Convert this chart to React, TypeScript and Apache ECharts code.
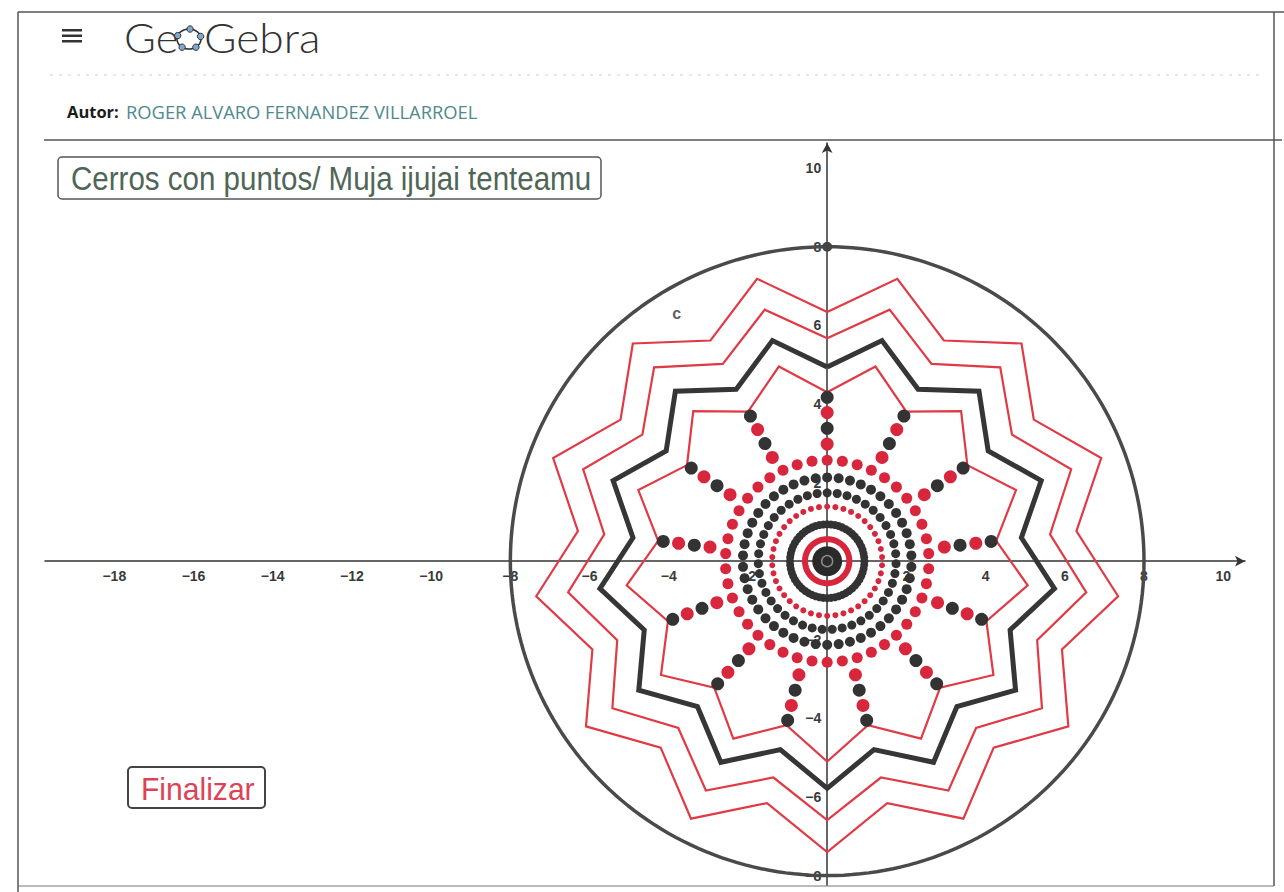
import { useEffect, useRef } from "react";
import * as echarts from "echarts";

// ---- axes ----
const xTickValues = [-18, -16, -14, -12, -10, -8, -6, -4, -2, 2, 4, 6, 8, 10];
const yTickValues = [-8, -6, -4, -2, 2, 4, 6, 8, 10];
const xRange = [-19.75, 10.55];
const yRange = [-8.24, 10.64];

// ---- circle c ----
const circleRadius = 8;
const circlePoints = [[0, 8]];
const circleLabel = [{ name: "c", value: [-3.8, 6.3] }];

// ---- 13 hills (stars) ----
const hillCount = 13;
const starInnerRadii = [4.3, 4.94, 5.67, 6.34];
const starOuterRadii = [5.1, 5.78, 6.59, 7.4];
const starKinds = ["red", "black", "red", "red"];

// ---- dotted rings ----
const ringRadii = [1.39, 1.74, 2.13, 2.57];
const ringDotCounts = [42, 43, 46, 42];
const ringKinds = ["red", "black", "black", "red"];
const ringDotSizes = [6, 9, 10, 11];

// ---- spokes (one per hill) ----
const spokeRadii = [2.98, 3.38, 3.78, 4.17];
const spokeKinds = ["red", "black", "red", "black"];

// ---- centre ----
const beadRingRadius = 0.94;
const beadCount = 60;
const redRingRadius = 0.56;

const RED_LINE = "#e03a45";
const RED_DOT = "#d8263c";
const DARK = "#333333";

// grid geometry (pixels)
const GRID = { left: 45, right: 39, top: 143, bottom: 7 };
const W = 1284;
const H = 892;

const deg = Math.PI / 180;
const polar = (r: number, a: number) => [r * Math.cos(a * deg), r * Math.sin(a * deg)];
const circleData = (r: number, n: number) => {
  const out: number[][] = [];
  for (let i = 0; i <= n; i++) out.push(polar(r, 90 + (i * 360) / n));
  return out;
};
const starData = (ri: number, ro: number) => {
  const out: number[][] = [];
  for (let k = 0; k <= 2 * hillCount; k++) {
    out.push(polar(k % 2 === 0 ? ri : ro, 90 + (k * 180) / hillCount));
  }
  return out;
};
const ringData = (r: number, n: number) => {
  const out: number[][] = [];
  for (let i = 0; i < n; i++) out.push(polar(r, 90 + (i * 360) / n));
  return out;
};

const minus = (v: number) => (v < 0 ? "\u2212" + Math.abs(v) : String(v));

function buildOption() {
  const series: any[] = [];

  series.push({
    type: "line",
    data: circleData(circleRadius, 240),
    symbol: "none",
    lineStyle: { color: "#4a4a4a", width: 3.5 },
    z: 3,
    silent: true,
  });

  starInnerRadii.forEach((ri, i) => {
    const black = starKinds[i] === "black";
    series.push({
      type: "line",
      data: starData(ri, starOuterRadii[i]),
      symbol: "none",
      lineStyle: { color: black ? "#363636" : RED_LINE, width: black ? 5 : 2.2, join: "miter" },
      z: 3,
      silent: true,
    });
  });

  ringRadii.forEach((r, i) => {
    series.push({
      type: "scatter",
      data: ringData(r, ringDotCounts[i]),
      symbolSize: ringDotSizes[i],
      itemStyle: { color: ringKinds[i] === "red" ? RED_DOT : DARK, opacity: 1 },
      z: 5,
      silent: true,
    });
  });

  const spokeData: any[] = [];
  for (let k = 0; k < hillCount; k++) {
    spokeRadii.forEach((r, j) => {
      spokeData.push({
        value: polar(r, 90 + (k * 360) / hillCount),
        itemStyle: { color: spokeKinds[j] === "red" ? RED_DOT : DARK, opacity: 1 },
      });
    });
  }
  series.push({ type: "scatter", data: spokeData, symbolSize: 13, itemStyle: { opacity: 1 }, z: 5, silent: true });

  series.push({
    type: "scatter",
    data: ringData(beadRingRadius, beadCount),
    symbolSize: 8,
    itemStyle: { color: DARK, opacity: 1 },
    z: 5,
    silent: true,
  });
  series.push({
    type: "line",
    data: circleData(redRingRadius, 120),
    symbol: "none",
    lineStyle: { color: RED_DOT, width: 6 },
    z: 5,
    silent: true,
  });
  series.push({
    type: "scatter",
    data: [[0, 0]],
    symbolSize: 30,
    itemStyle: { color: "#2a2a2a", opacity: 1 },
    z: 6,
    silent: true,
  });
  series.push({
    type: "scatter",
    data: [[0, 0]],
    symbol: "circle",
    symbolSize: 11,
    itemStyle: { color: "rgba(0,0,0,0)", borderColor: "#8a8a8a", borderWidth: 1.5, opacity: 1 },
    z: 7,
    silent: true,
  });

  series.push({
    type: "scatter",
    data: circlePoints,
    symbolSize: 10,
    itemStyle: { color: "#444", opacity: 1 },
    z: 6,
    silent: true,
  });

  series.push({
    type: "scatter",
    data: circleLabel,
    symbolSize: 0,
    label: {
      show: true,
      formatter: "{b}",
      position: "inside",
      fontSize: 16,
      fontWeight: "bold",
      color: "#333",
      fontFamily: "Liberation Sans",
    },
    z: 6,
    silent: true,
  });

  const axisLabelBase = {
    fontSize: 14,
    fontWeight: "bold",
    color: "#3a3a3a",
    fontFamily: "Liberation Sans",
    formatter: (v: number) => minus(v),
  };

  const gridW = W - GRID.left - GRID.right;
  const gridH = H - GRID.top - GRID.bottom;
  const xAxisOffset = -((0 - yRange[0]) / (yRange[1] - yRange[0])) * gridH;
  const yAxisOffset = -((0 - xRange[0]) / (xRange[1] - xRange[0])) * gridW;

  const graphic: any[] = [
    { type: "line", shape: { x1: 18, y1: 12, x2: 1284, y2: 12 }, style: { stroke: "#555", lineWidth: 1.5 } },
    { type: "line", shape: { x1: 18, y1: 12, x2: 18, y2: 892 }, style: { stroke: "#555", lineWidth: 1.5 } },
    { type: "line", shape: { x1: 1274, y1: 12, x2: 1274, y2: 886 }, style: { stroke: "#555", lineWidth: 1.5 } },
    { type: "line", shape: { x1: 18, y1: 886, x2: 1274, y2: 886 }, style: { stroke: "#777", lineWidth: 1 } },
    { type: "rect", shape: { x: 62, y: 29, width: 20, height: 2.5 }, style: { fill: "#333" } },
    { type: "rect", shape: { x: 62, y: 34.5, width: 20, height: 2.5 }, style: { fill: "#333" } },
    { type: "rect", shape: { x: 62, y: 40, width: 20, height: 2.5 }, style: { fill: "#333" } },
    {
      type: "text",
      x: 124,
      y: 37,
      scaleX: 1.06,
      style: { text: "Ge", fontSize: 41, fontWeight: 300, fontFamily: "Lato", fill: "#333", align: "left", verticalAlign: "middle" },
    },
    {
      type: "ellipse",
      shape: { cx: 189, cy: 39, rx: 12, ry: 10 },
      style: { fill: "none", stroke: "#333", lineWidth: 1.6 },
    },
    ...[160, 85, 15, -55, -125].map((a) => ({
      type: "circle",
      shape: { cx: 189 + 12 * Math.cos(a * deg), cy: 39 - 10 * Math.sin(a * deg), r: 3.2 },
      style: { fill: "#7fa8cf", stroke: "#333", lineWidth: 1 },
    })),
    {
      type: "text",
      x: 204,
      y: 37,
      scaleX: 1.08,
      style: { text: "Gebra", fontSize: 41, fontWeight: 300, fontFamily: "Lato", fill: "#333", align: "left", verticalAlign: "middle" },
    },
    { type: "line", shape: { x1: 50, y1: 75, x2: 1260, y2: 75 }, style: { stroke: "#cfcfcf", lineWidth: 1, lineDash: [3, 6] } },
    {
      type: "text",
      x: 67,
      y: 111,
      style: { text: "Autor:", fontSize: 16.5, fontWeight: "bold", fontFamily: "Open Sans", fill: "#1c1c1c", align: "left", verticalAlign: "middle" },
    },
    {
      type: "text",
      x: 126,
      y: 111,
      scaleX: 0.965,
      style: { text: "ROGER ALVARO FERNANDEZ VILLARROEL", fontSize: 19, fontFamily: "Open Sans", fill: "#4f8a8c", align: "left", verticalAlign: "middle" },
    },
    { type: "line", shape: { x1: 44, y1: 140, x2: 1282, y2: 140 }, style: { stroke: "#555", lineWidth: 1.5 } },
    {
      type: "rect",
      shape: { x: 58, y: 157, width: 543, height: 42, r: 4 },
      style: { fill: "#fff", stroke: "#555", lineWidth: 1.5 },
      z: 10,
    },
    {
      type: "text",
      x: 71,
      y: 179,
      scaleX: 0.895,
      style: { text: "Cerros con puntos/ Muja ijujai tenteamu", fontSize: 33, fontFamily: "Liberation Sans", fill: "#4f6657", align: "left", verticalAlign: "middle" },
      z: 11,
    },
    {
      type: "rect",
      shape: { x: 128, y: 767, width: 137, height: 41, r: 4 },
      style: { fill: "#fff", stroke: "#444", lineWidth: 2 },
      z: 10,
    },
    {
      type: "text",
      x: 141,
      y: 789,
      scaleX: 0.94,
      style: { text: "Finalizar", fontSize: 32, fontFamily: "Liberation Sans", fill: "#dc4357", align: "left", verticalAlign: "middle" },
      z: 11,
    },
  ];

  return {
    animation: false,
    backgroundColor: "#fff",
    grid: { ...GRID, containLabel: false },
    xAxis: {
      type: "value",
      position: "bottom",
      offset: xAxisOffset,
      min: xRange[0],
      max: xRange[1],
      axisLine: { onZero: false, lineStyle: { color: "#333", width: 1.5 }, symbol: ["none", "arrow"], symbolSize: [8, 10] },
      axisTick: { show: false },
      splitLine: { show: false },
      axisLabel: { ...axisLabelBase, customValues: xTickValues, margin: 8 },
    },
    yAxis: {
      type: "value",
      position: "left",
      offset: yAxisOffset,
      min: yRange[0],
      max: yRange[1],
      axisLine: { onZero: false, lineStyle: { color: "#333", width: 1.5 }, symbol: ["none", "arrow"], symbolSize: [8, 10] },
      axisTick: { show: false },
      splitLine: { show: false },
      axisLabel: { ...axisLabelBase, customValues: yTickValues, margin: 6 },
    },
    series,
    graphic: { elements: graphic },
  };
}

export default function App() {
  const ref = useRef<HTMLDivElement>(null);
  useEffect(() => {
    if (!ref.current) return;
    const chart = echarts.init(ref.current, null, { renderer: "svg" });
    chart.setOption(buildOption() as any);
    return () => chart.dispose();
  }, []);
  return (
    <div
      ref={ref}
      style={{ position: "absolute", left: 0, top: 0, width: W, height: H, background: "#fff" }}
    />
  );
}
